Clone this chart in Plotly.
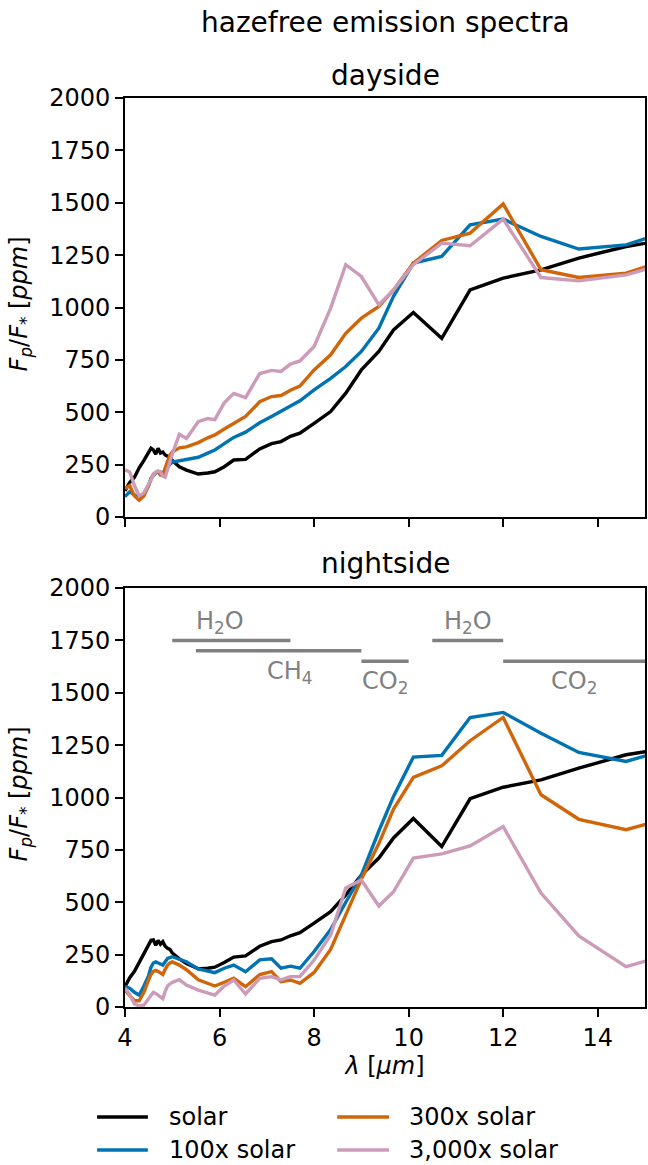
import plotly.graph_objects as go
from plotly.subplots import make_subplots

# ---------------- data ----------------
wavelength = [4.0, 4.1, 4.2, 4.3, 4.4, 4.5, 4.55, 4.6, 4.65, 4.7, 4.75, 4.8, 4.85, 4.9, 4.95,
              5.0, 5.15, 5.3, 5.55, 5.75, 5.9, 6.1, 6.3, 6.55, 6.85, 7.1, 7.3, 7.5, 7.7, 8.0,
              8.35, 8.67, 9.0, 9.37, 9.68, 10.1, 10.7, 11.3, 12.0, 12.8, 13.6, 14.6, 15.1]

series_names = ["solar", "100x solar", "300x solar", "3,000x solar"]
series_colors = ["#000000", "#0173b2", "#d0650a", "#cc9bb9"]

day_solar = [125, 165, 190, 235, 270, 310, 328, 320, 300, 328, 305, 310, 296, 290, 280,
             265, 240, 224, 205, 210, 216, 240, 272, 275, 325, 350, 360, 385, 400, 447,
             503, 591, 702, 790, 893, 976, 853, 1084, 1140, 1180, 1236, 1291, 1310]
day_100x = [97, 121, 105, 89, 110, 150, 185, 200, 210, 216, 215, 208, 225, 240, 252,
            262, 268, 272, 285, 305, 320, 350, 380, 405, 450, 480, 505, 530, 555, 607,
            662, 718, 790, 901, 1053, 1212, 1244, 1395, 1422, 1339, 1279, 1299, 1335]
day_300x = [135, 150, 100, 80, 100, 155, 185, 205, 212, 215, 200, 200, 235, 265, 295,
            310, 330, 335, 355, 378, 392, 420, 445, 480, 550, 575, 580, 605, 625, 702,
            774, 877, 949, 1005, 1084, 1212, 1320, 1355, 1494, 1180, 1143, 1164, 1200]
day_3000x = [225, 215, 150, 100, 115, 160, 180, 200, 215, 220, 215, 195, 190, 230, 270,
             300, 395, 375, 455, 470, 465, 545, 590, 570, 685, 700, 695, 730, 745, 814,
             997, 1204, 1148, 1013, 1084, 1204, 1307, 1295, 1422, 1143, 1127, 1156, 1188]

night_solar = [97, 140, 170, 210, 250, 290, 318, 320, 295, 318, 300, 312, 290, 280, 275,
               258, 230, 208, 182, 185, 190, 212, 238, 244, 290, 312, 320, 340, 355, 400,
               455, 535, 630, 711, 807, 900, 766, 994, 1049, 1084, 1140, 1204, 1222]
night_100x = [97, 90, 70, 57, 100, 150, 190, 210, 215, 208, 205, 200, 215, 232, 236,
              240, 228, 216, 182, 170, 164, 185, 200, 168, 225, 230, 185, 195, 185, 265,
              370, 500, 630, 840, 1005, 1193, 1201, 1382, 1406, 1307, 1215, 1172, 1205]
night_300x = [80, 55, 30, 30, 70, 130, 155, 170, 175, 170, 160, 155, 180, 200, 210,
              215, 200, 178, 130, 115, 100, 118, 137, 97, 155, 169, 121, 129, 113, 165,
              275, 440, 610, 780, 945, 1096, 1151, 1271, 1382, 1013, 896, 846, 878]
night_3000x = [90, 60, 15, 5, 10, 40, 60, 70, 65, 57, 45, 40, 75, 100, 110,
               118, 130, 105, 81, 68, 57, 100, 129, 62, 137, 145, 129, 145, 145, 224,
               344, 568, 606, 482, 550, 711, 731, 769, 861, 544, 339, 193, 225]

day_series = [day_solar, day_100x, day_300x, day_3000x]
night_series = [night_solar, night_100x, night_300x, night_3000x]

# absorption band markers (nightside panel)
band_labels = ["H<sub>2</sub>O", "CH<sub>4</sub>", "CO<sub>2</sub>", "H<sub>2</sub>O", "CO<sub>2</sub>"]
band_start = [5.0, 5.5, 9.0, 10.5, 12.0]
band_end = [7.5, 9.0, 10.0, 12.0, 15.0]
band_level = [1750, 1700, 1650, 1750, 1650]
band_label_x = [6.0, 7.5, 9.5, 11.25, 13.5]
band_label_above = [True, False, False, True, False]

y_ticks = [0, 250, 500, 750, 1000, 1250, 1500, 1750, 2000]
x_ticks = [4, 6, 8, 10, 12, 14]

# ---------------- figure ----------------
FONT = "DejaVu Sans"
W, H = 648, 1165
ML, MR, MT, MB = 125, 1, 98, 158
PW, PH = W - ML - MR, H - MT - MB


def px_x(px):
    return (px - ML) / PW


def px_y(py):
    return (H - MB - py) / PH


fig = make_subplots(rows=2, cols=1, shared_xaxes=False, vertical_spacing=0.078)

for i, name in enumerate(series_names):
    fig.add_trace(go.Scatter(x=wavelength, y=day_series[i], mode="lines", name=name,
                             line=dict(color=series_colors[i], width=3.4),
                             showlegend=False), row=1, col=1)
for i, name in enumerate(series_names):
    fig.add_trace(go.Scatter(x=wavelength, y=night_series[i], mode="lines", name=name,
                             line=dict(color=series_colors[i], width=3.4),
                             showlegend=False), row=2, col=1)

axis_common = dict(range=[4, 15], showgrid=False, zeroline=False, showline=True,
                   linecolor="black", linewidth=1.9, mirror=True, ticks="outside",
                   ticklen=8, tickwidth=1.9, tickcolor="black", tickvals=x_ticks,
                   tickfont=dict(family=FONT, size=24, color="black"))
fig.update_xaxes(**axis_common)
fig.update_xaxes(showticklabels=False, row=1, col=1)
fig.update_xaxes(title=dict(text="<i>λ</i> [<i>μm</i>]", standoff=6,
                            font=dict(family=FONT, size=24, color="black")), row=2, col=1)
fig.update_yaxes(range=[0, 2000], showgrid=False, zeroline=False, showline=True,
                 linecolor="black", linewidth=1.9, mirror=True, ticks="outside",
                 ticklen=8, tickwidth=1.9, tickcolor="black", tickvals=y_ticks,
                 tickfont=dict(family=FONT, size=24, color="black"))

fig.update_layout(xaxis=dict(domain=[0, 1]), xaxis2=dict(domain=[0, 1]),
                  yaxis=dict(domain=[px_y(517), 1.0]), yaxis2=dict(domain=[0.0, px_y(588)]))

# band lines and labels
for i in range(len(band_labels)):
    fig.add_shape(type="line", xref="x2", yref="y2", x0=band_start[i], x1=band_end[i],
                  y0=band_level[i], y1=band_level[i],
                  line=dict(color="#808080", width=3.5))
    fig.add_annotation(xref="x2", yref="y2", x=band_label_x[i], y=band_level[i],
                       text=band_labels[i], showarrow=False,
                       yanchor="bottom" if band_label_above[i] else "top",
                       yshift=0 if band_label_above[i] else -4,
                       font=dict(family=FONT, size=24, color="#808080"))

# titles
fig.add_annotation(xref="paper", yref="paper", x=0.5, y=px_y(22), text="hazefree emission spectra",
                   showarrow=False, yanchor="middle", font=dict(family=FONT, size=28, color="black"))
fig.add_annotation(xref="paper", yref="paper", x=0.5, y=px_y(75), text="dayside",
                   showarrow=False, yanchor="middle", font=dict(family=FONT, size=28, color="black"))
fig.add_annotation(xref="paper", yref="paper", x=0.5, y=px_y(563), text="nightside",
                   showarrow=False, yanchor="middle", font=dict(family=FONT, size=28, color="black"))

ylab = "<i>F<sub>p</sub></i>/<i>F</i><sub>*</sub> [<i>ppm</i>]"
for yc in [px_y(304), px_y(794)]:
    fig.add_annotation(xref="paper", yref="paper", x=px_x(20), y=yc, text=ylab, textangle=-90,
                       showarrow=False, xanchor="center", yanchor="middle",
                       font=dict(family=FONT, size=24, color="black"))

# legend (two columns, drawn as key lines + labels below the axes)
legend_line_x0 = [97, 97, 338, 338]
legend_line_x1 = [148, 148, 390, 390]
legend_text_x = [167, 167, 408, 408]
legend_row_y = [1117, 1150, 1117, 1150]
for i, name in enumerate(series_names):
    fig.add_shape(type="line", xref="paper", yref="paper",
                  x0=px_x(legend_line_x0[i]), x1=px_x(legend_line_x1[i]),
                  y0=px_y(legend_row_y[i]), y1=px_y(legend_row_y[i]),
                  line=dict(color=series_colors[i], width=3.6))
    fig.add_annotation(xref="paper", yref="paper", x=px_x(legend_text_x[i]), y=px_y(legend_row_y[i]),
                       text=name, showarrow=False, xanchor="left", yanchor="middle",
                       font=dict(family=FONT, size=24, color="black"))

fig.update_layout(
    width=W, height=H,
    margin=dict(l=ML, r=MR, t=MT, b=MB),
    paper_bgcolor="white", plot_bgcolor="white",
    font=dict(family=FONT, size=24, color="black"),
    showlegend=False,
)

fig.write_html("out.html")
